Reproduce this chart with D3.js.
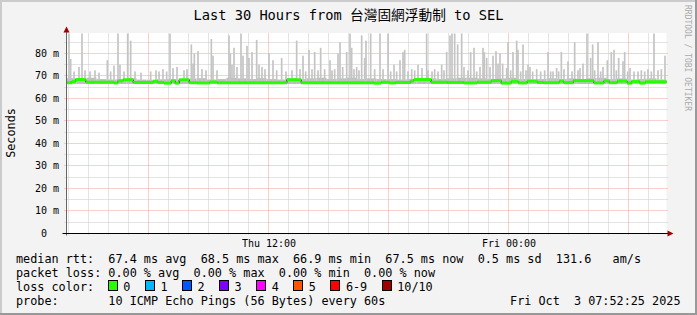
<!DOCTYPE html>
<html>
<head>
<meta charset="utf-8">
<script src="https://cdn.jsdelivr.net/npm/d3@7"></script>
<style>
body { margin: 0; background: #f3f3f3; }
text { font-family: "DejaVu Sans Mono", "Noto Sans CJK TC", monospace; fill: #000; }
</style>
</head>
<body>
<div id="chart"></div>
<script>
//chart data (times are minutes after the start of the 30 hour window)
var endTime = Date.UTC(2025, 9, 3, 7, 54);
var spanMinutes = 30 * 60;

var yTicks = [0, 10, 20, 30, 40, 50, 60, 70, 80];
var yMinorTicks = [5, 15, 25, 35, 45, 55, 65, 75, 85];

//median rtt, step changes
var medianTimes = [0, 16, 28, 58, 142, 154, 170, 200, 260, 274, 292, 314, 326, 338, 368, 392, 430, 452, 661, 704,
    922, 944, 968, 988, 1033, 1042, 1094, 1142, 1192, 1232, 1274, 1304, 1334, 1355, 1382, 1412, 1432, 1478, 1492, 1520,
    1582, 1612, 1628, 1652, 1682, 1696, 1720, 1736];
var medianValues = [67.0, 67.5, 68.4, 67.2, 66.9, 67.8, 68.3, 67.1, 67.6, 67.1, 66.8, 67.8, 66.8, 68.3, 67.0, 66.9, 67.3, 67.0, 68.3, 67.0,
    66.8, 67.2, 66.9, 67.1, 67.8, 68.4, 67.2, 67.1, 66.9, 67.2, 67.9, 66.8, 67.6, 66.9, 67.7, 67.1, 67.0, 67.7, 67.0, 67.9,
    66.9, 67.8, 67.0, 67.7, 66.8, 67.5, 66.8, 67.4];

//dense smoke top, one value per 30 minutes
var smokeTop = [69.0, 68.6, 69.2, 68.6, 68.4, 68.6, 69.0, 68.4, 68.3, 68.5,
    68.6, 68.4, 68.8, 69.0, 68.4, 68.6, 69.2, 68.9, 68.6, 69.0,
    68.6, 68.4, 69.0, 68.6, 68.9, 69.2, 68.6, 68.9, 69.2, 68.6,
    68.9, 68.6, 68.6, 68.4, 68.6, 68.4, 68.9, 68.6, 68.9, 69.2,
    69.2, 68.9, 68.6, 68.9, 69.2, 68.6, 68.4, 68.6, 68.9, 68.6,
    68.9, 68.6, 68.9, 69.2, 68.6, 68.9, 68.4, 68.6, 68.9, 68.4];
var smokeFloor = 66.4;

//single pings far above the median [minute, ms]
var spikes = [[5, 89], [10, 77.5], [20, 72], [35, 74], [44, 89], [53, 72.5], [68, 72], [83, 72.5], [95, 71.5], [120, 77],
    [130, 72], [140, 74.6], [152, 89], [158, 75], [170, 72], [181, 89], [190, 85.7], [203, 72], [221, 71.5], [250, 72],
    [266, 72.5], [275, 72], [287, 73], [298, 72], [308, 89], [317, 73.5], [329, 74], [350, 72.5], [359, 73], [372, 84],
    [377, 75.5], [381, 80], [392, 81], [404, 73], [416, 72.5], [432, 86.4], [437, 79], [449, 72.5], [485, 88], [489, 80],
    [494, 75], [500, 82.5], [509, 74], [521, 89], [527, 79], [539, 83.4], [545, 78], [554, 80.6], [568, 86], [575, 75],
    [584, 74], [593, 73], [605, 80], [617, 77], [628, 72.5], [643, 78], [656, 72], [674, 72.5], [688, 85.7], [698, 73],
    [707, 79], [715, 72], [725, 81.6], [734, 73], [742, 80.6], [752, 72.5], [760, 82.5], [772, 73], [788, 77], [794, 72.5],
    [802, 73], [812, 80], [818, 85], [826, 74], [838, 80.6], [848, 89], [853, 82.5], [860, 73], [868, 74], [875, 72.5],
    [883, 88], [892, 78], [896, 85.7], [910, 89], [922, 73], [938, 89], [947, 73], [962, 89], [970, 72], [980, 75],
    [988, 72], [998, 77], [1007, 80.6], [1012, 81.6], [1022, 72], [1033, 73], [1042, 72.5], [1052, 75], [1064, 73.5], [1078, 89],
    [1082, 72.5], [1094, 72], [1102, 73], [1112, 72], [1123, 75], [1130, 72.5], [1138, 80.6], [1148, 88], [1154, 89], [1162, 89],
    [1171, 84], [1183, 89], [1190, 74], [1202, 72.5], [1210, 80.6], [1220, 82.5], [1228, 72], [1238, 74], [1247, 82.5], [1251, 80.6],
    [1258, 78], [1268, 74], [1277, 79], [1286, 81], [1292, 75.5], [1298, 80], [1306, 75.5], [1318, 73.5], [1322, 85], [1330, 72.5],
    [1337, 80.6], [1348, 85.7], [1352, 81.6], [1360, 72], [1367, 84], [1376, 72.5], [1382, 75], [1388, 74], [1396, 72], [1408, 73],
    [1420, 72], [1432, 72.5], [1442, 80.6], [1450, 72], [1457, 72], [1468, 73.5], [1474, 72], [1482, 80.6], [1490, 73], [1502, 76.5],
    [1514, 72], [1522, 85], [1532, 72.5], [1538, 73.5], [1547, 75.5], [1559, 89], [1570, 78], [1576, 84], [1582, 72.5], [1592, 85],
    [1600, 72], [1607, 74], [1620, 77], [1632, 80.6], [1640, 81.6], [1647, 72.5], [1654, 78], [1667, 76.5], [1672, 80.6], [1681, 72],
    [1688, 73.5], [1700, 72], [1712, 72], [1722, 72.5], [1732, 72], [1742, 73], [1752, 72], [1760, 89], [1772, 72.5], [1782, 73],
    [1793, 79]];

//legend
var rttStats = ["67.4 ms avg", "68.5 ms max", "66.9 ms min", "67.5 ms now", "0.5 ms sd", "131.6   am/s"];
var lossStats = ["0.00 % avg", "0.00 % max", "0.00 % min", "0.00 % now"];
var lossLabels = ["0", "1", "2", "3", "4", "5", "6-9", "10/10"];
var lossColors = ["#26ff00", "#00b8ff", "#0059ff", "#7e00ff", "#ff00ff", "#ff5500", "#ff0000", "#a10000"];
var probeText = "10 ICMP Echo Pings (56 Bytes) every 60s";
var dateText = "Fri Oct  3 07:52:25 2025";
var titleText = "Last 30 Hours from 台灣固網浮動制 to SEL";

//---------------------------------------------------------------------------//

var svgWidth = 697;
var svgHeight = 315;
var plot = {left: 66.5, right: 666.5, top: 33.5, bottom: 233.5};
var charW = 7.1;
//keep runs of spaces in svg text
var keep = s => s.replace(/ /g, "\u00a0");

var svg = d3.select("#chart")
    .append("svg")
    .attr("width", svgWidth)
    .attr("height", svgHeight);

//background and shaded frame
svg.append("rect").attr("width", svgWidth).attr("height", svgHeight).attr("fill", "#f3f3f3");
svg.append("rect").attr("width", svgWidth).attr("height", 2).attr("fill", "#cbcbcb");
svg.append("rect").attr("width", 2).attr("height", svgHeight).attr("fill", "#cbcbcb");
svg.append("rect").attr("y", svgHeight - 2).attr("width", svgWidth).attr("height", 2).attr("fill", "#999");
svg.append("rect").attr("x", svgWidth - 2).attr("width", 2).attr("height", svgHeight).attr("fill", "#999");

var startTime = endTime - spanMinutes * 60000;
var x = d3.scaleUtc()
    .domain([new Date(startTime), new Date(endTime)])
    .range([plot.left, plot.right]);
var y = d3.scaleLinear()
    .domain([0, 88.85])
    .range([plot.bottom, plot.top]);
var t = m => new Date(startTime + m * 60000);
var crisp = v => Math.round(v - 0.5) + 0.5;

//canvas
svg.append("rect")
    .attr("x", plot.left).attr("y", plot.top - 0.5)
    .attr("width", plot.right - plot.left).attr("height", plot.bottom - plot.top + 0.5)
    .attr("fill", "#fff");

//grid
var grid = svg.append("g");
grid.selectAll(".ymin").data(yMinorTicks).enter().append("line")
    .attr("x1", plot.left - 2).attr("x2", plot.right + 2)
    .attr("y1", d => crisp(y(d))).attr("y2", d => crisp(y(d)))
    .attr("stroke", "#c8c8c8").attr("stroke-dasharray", "1,1");
grid.selectAll(".ymaj").data(yTicks.slice(1)).enter().append("line")
    .attr("x1", plot.left - 2).attr("x2", plot.right + 2)
    .attr("y1", d => crisp(y(d))).attr("y2", d => crisp(y(d)))
    .attr("stroke", "#f0a0a0").attr("stroke-dasharray", "1,1");
var hours = x.ticks(d3.utcHour.every(1)).filter(d => d.getUTCHours() % 6 != 0);
var sixHours = x.ticks(d3.utcHour.every(6));
grid.selectAll(".xmin").data(hours).enter().append("line")
    .attr("x1", d => crisp(x(d))).attr("x2", d => crisp(x(d)))
    .attr("y1", plot.top).attr("y2", plot.bottom + 2)
    .attr("stroke", "#c8c8c8").attr("stroke-dasharray", "1,1");
grid.selectAll(".xmaj").data(sixHours).enter().append("line")
    .attr("x1", d => crisp(x(d))).attr("x2", d => crisp(x(d)))
    .attr("y1", plot.top).attr("y2", plot.bottom + 2)
    .attr("stroke", "#f0a0a0").attr("stroke-dasharray", "1,1");

//smoke
var smoke = svg.append("g");
smoke.selectAll("rect.base").data(smokeTop).enter().append("rect")
    .attr("x", (d, i) => x(t(i * 30)))
    .attr("width", (d, i) => x(t((i + 1) * 30)) - x(t(i * 30)))
    .attr("y", d => y(d))
    .attr("height", d => y(smokeFloor) - y(d))
    .attr("fill", "#bdbdbd");
smoke.selectAll("rect.spike").data(spikes).enter().append("rect")
    .attr("x", d => x(t(d[0])))
    .attr("width", d => x(t(d[0] + 5)) - x(t(d[0])))
    .attr("y", d => Math.max(plot.top, y(d[1])))
    .attr("height", d => y(smokeFloor) - Math.max(plot.top, y(d[1])))
    .attr("fill", "#c4c4c4");

//median line: thin dark step line, then loss coloured segments
var medianData = medianTimes.map((m, i) => [m, medianValues[i]]);
var stepLine = d3.line()
    .x(d => x(t(d[0])))
    .y(d => y(d[1]))
    .curve(d3.curveStepAfter);
svg.append("path")
    .datum(medianData.concat([[spanMinutes, medianValues[medianValues.length - 1]]]))
    .attr("d", stepLine)
    .attr("fill", "none")
    .attr("stroke", "#202020")
    .attr("stroke-width", 1);
svg.selectAll("line.median").data(medianData).enter().append("line")
    .attr("x1", d => x(t(d[0])))
    .attr("x2", (d, i) => x(t(i + 1 < medianTimes.length ? medianTimes[i + 1] : spanMinutes)))
    .attr("y1", d => y(d[1])).attr("y2", d => y(d[1]))
    .attr("stroke", lossColors[0])
    .attr("stroke-width", 3);

//axes
var leftAxis = d3.axisLeft(y)
    .tickValues(yTicks)
    .tickSize(0)
    .tickPadding(3)
    .tickFormat(d => d === 0 ? "0\u00a0\u00a0" : d + "\u00a0m");
var yAxisG = svg.append("g").attr("transform", "translate(62,0)").call(leftAxis);
yAxisG.select(".domain").remove();
yAxisG.selectAll("text").style("font-size", "10px").attr("y", d => crisp(y(d)) - y(d));

var bottomAxis = d3.axisBottom(x)
    .ticks(d3.utcHour.every(12))
    .tickSize(0)
    .tickPadding(6)
    .tickFormat(d3.utcFormat("%a %H:%M"));
var xAxisG = svg.append("g").attr("transform", `translate(0, ${plot.bottom})`).call(bottomAxis);
xAxisG.select(".domain").remove();
xAxisG.selectAll("text").style("font-size", "10px");

//axis lines and arrows
svg.append("line")
    .attr("x1", plot.left).attr("x2", plot.left)
    .attr("y1", plot.bottom + 2).attr("y2", plot.top - 4)
    .attr("stroke", "#666");
svg.append("line")
    .attr("x1", plot.left - 4).attr("x2", plot.right + 4)
    .attr("y1", plot.bottom).attr("y2", plot.bottom)
    .attr("stroke", "#000");
svg.append("path")
    .attr("d", `M${plot.left - 3},${plot.top - 1} L${plot.left + 3},${plot.top - 1} L${plot.left},${plot.top - 7} Z`)
    .attr("fill", "#a00000");
svg.append("path")
    .attr("d", `M${plot.right + 1},${plot.bottom - 3} L${plot.right + 1},${plot.bottom + 3} L${plot.right + 7},${plot.bottom} Z`)
    .attr("fill", "#a00000");

//title, unit label, watermark
svg.append("text")
    .attr("x", 348.5).attr("y", 20)
    .attr("text-anchor", "middle")
    .style("font-size", "13.7px")
    .text(titleText);
svg.append("text")
    .attr("transform", "translate(14.5,133) rotate(-90)")
    .attr("text-anchor", "middle")
    .style("font-size", "11.8px")
    .text("Seconds");
svg.append("text")
    .attr("transform", "translate(685,5) rotate(90)")
    .style("font-size", "8px")
    .style("fill", "#aaa")
    .text("RRDTOOL / TOBI OETIKER");

//legend
var legend = svg.append("g").style("font-size", "11.8px");
var lx = 16;
var rowY = [263, 277, 291, 305];
legend.append("text").attr("x", lx).attr("y", rowY[0])
    .text(keep("median rtt:  " + rttStats.join("  ")));
legend.append("text").attr("x", lx).attr("y", rowY[1])
    .text(keep("packet loss: " + lossStats.join("  ")));
legend.append("text").attr("x", lx).attr("y", rowY[2]).text("loss color:");
var bx = lx + 13 * charW - 0.5;
lossLabels.forEach(function(label, i) {
    legend.append("rect")
        .attr("x", Math.round(bx) + 0.5).attr("y", rowY[2] - 10.5)
        .attr("width", 9).attr("height", 10)
        .attr("fill", lossColors[i]).attr("stroke", "#000");
    legend.append("text").attr("x", bx + 15.5).attr("y", rowY[2]).text(label);
    bx = bx + 15.5 + label.length * charW + 14.5;
});
legend.append("text").attr("x", lx).attr("y", rowY[3])
    .text(keep("probe:       " + probeText));
legend.append("text").attr("x", 680.5).attr("y", rowY[3])
    .attr("text-anchor", "end")
    .text(keep(dateText));
</script>
</body>
</html>
